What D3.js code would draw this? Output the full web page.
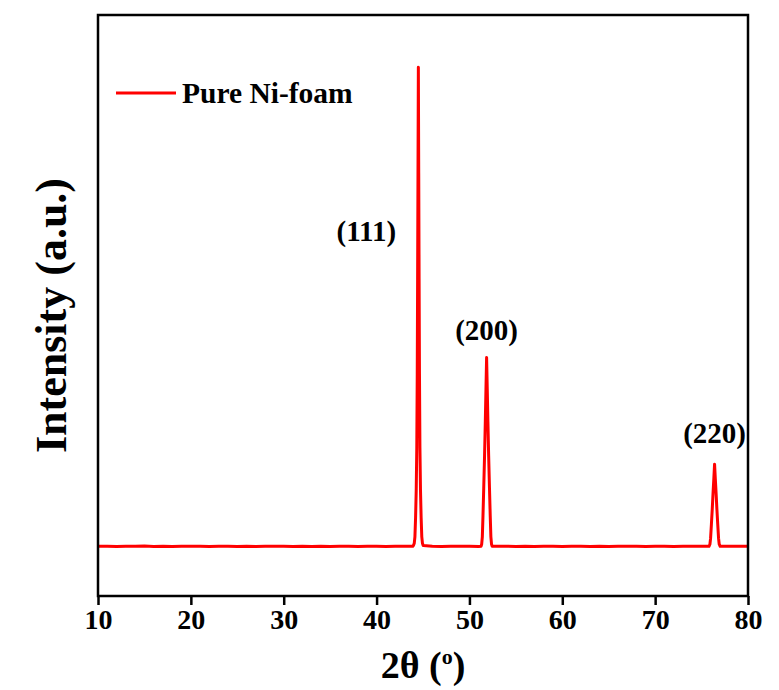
<!DOCTYPE html>
<html>
<head>
<meta charset="utf-8">
<script src="https://cdn.jsdelivr.net/npm/d3@7"></script>
<style>
  html, body { margin: 0; padding: 0; background: #ffffff; }
  svg { display: block; }
  text { font-family: "Liberation Serif", "Times New Roman", serif; font-weight: bold; fill: #000; }
</style>
</head>
<body>
<svg id="chart" width="779" height="690"></svg>
<script>
// XRD pattern of pure Ni foam: 2θ (degrees) and intensity (a.u.)
const twoTheta = [
  10, 11, 12, 13, 14, 15, 16, 17, 18, 19, 20, 21, 22, 23, 24, 25, 26, 27, 28, 29,
  30, 31, 32, 33, 34, 35, 36, 37, 38, 39, 40, 41, 42, 43, 43.9,
  43.98, 44.06, 44.13, 44.2, 44.27, 44.33, 44.38, 44.42, 44.46, 44.5, 44.54, 44.58, 44.62, 44.67, 44.73, 44.8, 44.87, 44.94, 45.02,
  46, 47, 48, 49, 50, 51, 51.25,
  51.32, 51.39, 51.46, 51.54, 51.63, 51.71, 51.78, 51.85, 51.92, 51.99, 52.07, 52.16, 52.24, 52.31, 52.38, 52.45,
  53, 54, 55, 56, 57, 58, 59, 60, 61, 62, 63, 64, 65, 66, 67, 68, 69, 70, 71, 72, 73, 74, 75, 75.8,
  75.9, 75.97, 76.06, 76.15, 76.23, 76.32, 76.4, 76.48, 76.57, 76.65, 76.74, 76.83, 76.9, 77.0,
  78, 79, 80
];
const intensity = [
  470, 472, 469, 471, 470, 473, 469, 471, 468, 472, 470, 471, 469, 470, 472, 469, 471, 469, 472, 470,
  470, 468, 471, 469, 471, 469, 472, 470, 469, 471, 470, 469, 472, 470, 471,
  480, 500, 560, 740, 1000, 1400, 2100, 3000, 4000, 5006, 4000, 3000, 2100, 1400, 1000, 740, 560, 500, 478,
  470, 469, 471, 470, 472, 469, 471,
  490, 560, 760, 1020, 1330, 1650, 1960, 2258, 1960, 1650, 1330, 1020, 760, 560, 490, 472,
  470, 471, 469, 471, 469, 472, 470, 469, 471, 470, 469, 472, 469, 471, 470, 471, 468, 470, 472, 469, 471, 470, 471, 470,
  490, 545, 680, 822, 965, 1110, 1248, 1110, 965, 822, 680, 545, 490, 471,
  470, 471, 470
];
const xTicks = [10, 20, 30, 40, 50, 60, 70, 80];
const peakLabels = ["(111)", "(200)", "(220)"];
const peakPositions = [44.5, 51.85, 76.4];
const peakHeights = [5006, 2258, 1248];
const seriesName = "Pure Ni-foam";

const data = twoTheta.map((t, i) => ({ t, v: intensity[i] }));

const svg = d3.select("#chart");
const margin = { left: 98, right: 31, top: 15, bottom: 94 };
const W = 779, H = 690;
const x0 = margin.left, x1 = W - margin.right;
const y0 = H - margin.bottom, y1 = margin.top;

const x = d3.scaleLinear().domain([10, 80]).range([x0, x1]);
const y = d3.scaleLinear().domain([0, 5500]).range([y0, y1]);

// spectrum
const line = d3.line().x(d => x(d.t)).y(d => y(d.v));
svg.append("path")
  .datum(data)
  .attr("d", line)
  .attr("fill", "none")
  .attr("stroke", "#ff0000")
  .attr("stroke-width", 3)
  .attr("stroke-linejoin", "round");

// bottom axis
const xAxis = d3.axisBottom(x).tickValues(xTicks).tickSize(9).tickPadding(4).tickFormat(d3.format("d"));
const gx = svg.append("g").attr("transform", `translate(0,${y0})`).call(xAxis);
gx.select(".domain").remove();
gx.selectAll(".tick line").attr("stroke", "#000").attr("stroke-width", 2.5);
gx.selectAll(".tick text")
  .style("font-family", '"Liberation Serif", "Times New Roman", serif')
  .style("font-weight", "bold")
  .style("font-size", "28px")
  .attr("fill", "#000");

// frame
svg.append("rect")
  .attr("x", x0).attr("y", y1)
  .attr("width", x1 - x0).attr("height", y0 - y1)
  .attr("fill", "none").attr("stroke", "#000").attr("stroke-width", 2.5);

// peak labels
const labelOffset = [[-52, 174], [0, -17], [0, -21]];
svg.append("g").selectAll("text")
  .data(peakLabels)
  .join("text")
  .attr("x", (d, i) => x(peakPositions[i]) + labelOffset[i][0])
  .attr("y", (d, i) => y(peakHeights[i]) + labelOffset[i][1])
  .attr("text-anchor", "middle")
  .style("font-size", "29px")
  .text(d => d);

// legend
svg.append("line")
  .attr("x1", 116).attr("x2", 176).attr("y1", 93).attr("y2", 93)
  .attr("stroke", "#ff0000").attr("stroke-width", 3);
svg.append("text")
  .attr("x", 182).attr("y", 103)
  .style("font-size", "29.5px")
  .text(seriesName);

// axis titles
const xt = svg.append("text")
  .attr("x", (x0 + x1) / 2).attr("y", 678)
  .attr("text-anchor", "middle")
  .style("font-size", "38px");
xt.append("tspan").text("2θ (");
xt.append("tspan").attr("dy", -14).style("font-size", "22px").text("o");
xt.append("tspan").attr("dy", 14).text(")");

svg.append("text")
  .attr("transform", `translate(66,${(y0 + y1) / 2 + 10}) rotate(-90)`)
  .attr("text-anchor", "middle")
  .style("font-size", "44px")
  .text("Intensity (a.u.)");
</script>
</body>
</html>
